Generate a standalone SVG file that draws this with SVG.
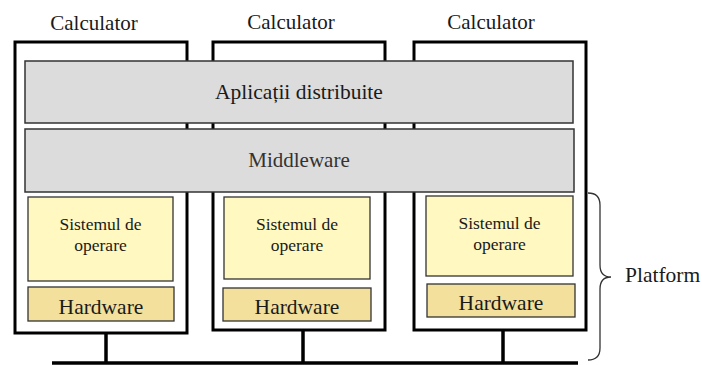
<svg xmlns="http://www.w3.org/2000/svg" width="702" height="365" viewBox="0 0 702 365">
<style>
.pc{fill:#fff;stroke:#000;stroke-width:3}
.band{fill:#dcdcdc;stroke:#333;stroke-width:1.5}
.os{fill:#fff8c0;stroke:#333;stroke-width:1.3}
.hw{fill:#f2e09c;stroke:#333;stroke-width:1.3}
.ln{stroke:#000;stroke-width:3.5;fill:none}
</style>
<rect width="702" height="365" fill="#fff"/>
<g id="connectors">
<line class="ln" x1="52" y1="363" x2="578" y2="363"/>
<line class="ln" x1="106" y1="333" x2="106" y2="363"/>
<line class="ln" x1="303" y1="330" x2="303" y2="363"/>
<line class="ln" x1="503" y1="330" x2="503" y2="363"/>
</g>
<g id="calc1">
<rect class="pc" x="15" y="42" width="172" height="291"/>
<text x="94" y="30" font-size="21" font-family="Liberation Serif" text-anchor="middle" fill="#1a1a1a">Calculator</text>
</g>
<g id="calc2">
<rect class="pc" x="213" y="42" width="172" height="288"/>
<text x="291" y="29" font-size="21" font-family="Liberation Serif" text-anchor="middle" fill="#1a1a1a">Calculator</text>
</g>
<g id="calc3">
<rect class="pc" x="414" y="42" width="172" height="288"/>
<text x="491" y="29" font-size="21" font-family="Liberation Serif" text-anchor="middle" fill="#1a1a1a">Calculator</text>
</g>
<g id="apps">
<rect class="band" x="25" y="61" width="548" height="62"/>
<text x="299" y="99" font-size="21.5" font-family="Liberation Serif" text-anchor="middle" fill="#1a1a1a">Aplicații distribuite</text>
</g>
<g id="middleware">
<rect class="band" x="25" y="129" width="549" height="63"/>
<text x="299" y="167" font-size="21" font-family="Liberation Serif" text-anchor="middle" fill="#333">Middleware</text>
</g>
<g id="os1">
<rect class="os" x="28" y="197" width="145" height="84"/>
<text x="100.5" y="230" font-size="17.5" font-family="Liberation Serif" text-anchor="middle" fill="#1a1a1a">Sistemul de</text>
<text x="100.5" y="251" font-size="17.5" font-family="Liberation Serif" text-anchor="middle" fill="#1a1a1a">operare</text>
</g>
<g id="hw1">
<rect class="hw" x="28" y="287" width="146" height="34"/>
<text x="101" y="314" font-size="21.5" font-family="Liberation Serif" text-anchor="middle" fill="#1a1a1a">Hardware</text>
</g>
<g id="os2">
<rect class="os" x="224" y="197" width="146" height="82"/>
<text x="297" y="230" font-size="17.5" font-family="Liberation Serif" text-anchor="middle" fill="#1a1a1a">Sistemul de</text>
<text x="297" y="251" font-size="17.5" font-family="Liberation Serif" text-anchor="middle" fill="#1a1a1a">operare</text>
</g>
<g id="hw2">
<rect class="hw" x="223" y="288" width="148" height="33"/>
<text x="297" y="314" font-size="21.5" font-family="Liberation Serif" text-anchor="middle" fill="#1a1a1a">Hardware</text>
</g>
<g id="os3">
<rect class="os" x="426" y="196" width="147" height="80"/>
<text x="499.5" y="229" font-size="17.5" font-family="Liberation Serif" text-anchor="middle" fill="#1a1a1a">Sistemul de</text>
<text x="499.5" y="250" font-size="17.5" font-family="Liberation Serif" text-anchor="middle" fill="#1a1a1a">operare</text>
</g>
<g id="hw3">
<rect class="hw" x="427" y="284" width="148" height="33"/>
<text x="501" y="310" font-size="21.5" font-family="Liberation Serif" text-anchor="middle" fill="#1a1a1a">Hardware</text>
</g>
<g id="platform">
<path d="M588,193 Q600,193 600,205 L600,265 Q600,277 611,277 Q600,277 600,289 L600,348 Q600,360 588,360" fill="none" stroke="#333" stroke-width="1.3"/>
<text x="625" y="282" font-size="21.5" font-family="Liberation Serif" fill="#1a1a1a">Platform</text>
</g>
</svg>
